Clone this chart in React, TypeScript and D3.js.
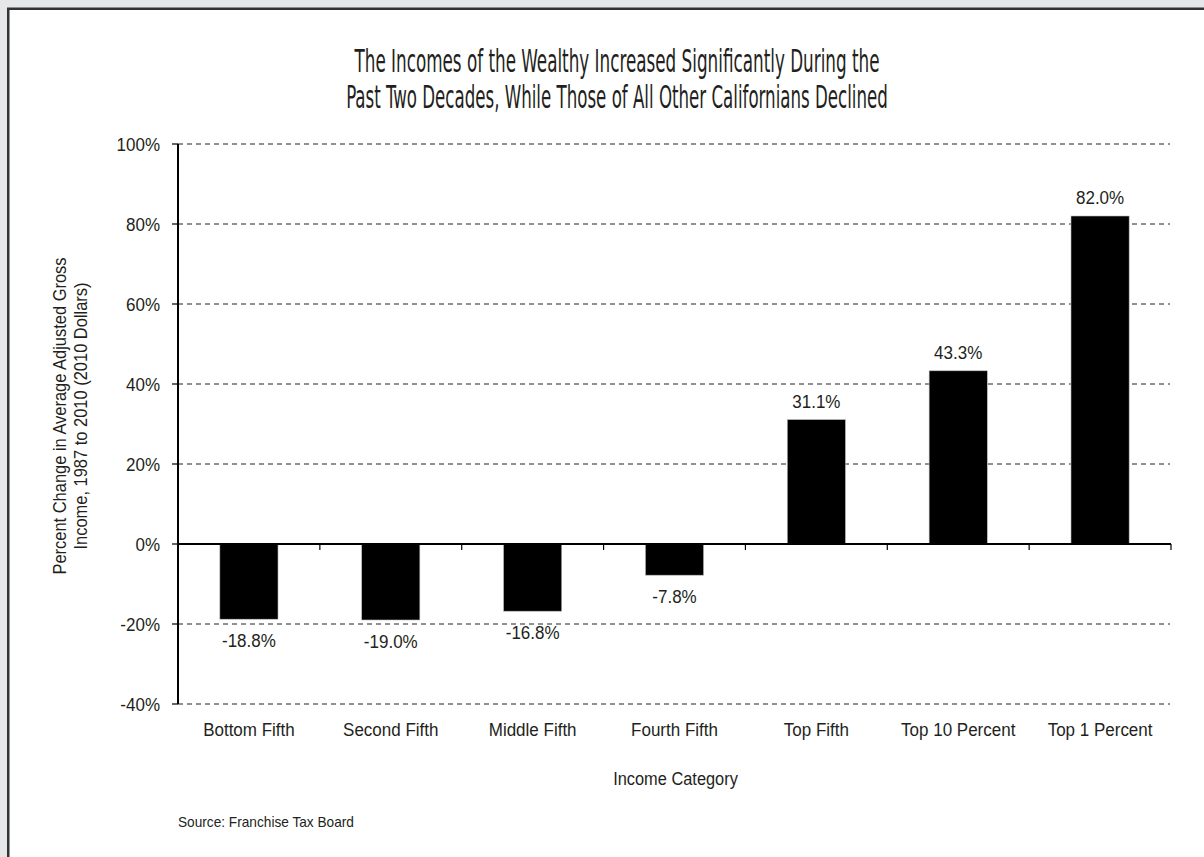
import React, { useEffect, useLayoutEffect, useRef, useState } from "react";
import * as d3 from "d3";

const categories = ["Bottom Fifth", "Second Fifth", "Middle Fifth", "Fourth Fifth", "Top Fifth", "Top 10 Percent", "Top 1 Percent"];
const values = [-18.8, -19.0, -16.8, -7.8, 31.1, 43.3, 82.0];
const yTicks = [-40, -20, 0, 20, 40, 60, 80, 100];
const titleLines = [
  "The Incomes of the Wealthy Increased Significantly During the",
  "Past Two Decades, While Those of All Other Californians Declined",
];
const yLabelLines = ["Percent Change in Average Adjusted Gross", "Income, 1987 to 2010 (2010 Dollars)"];
const xLabel = "Income Category";
const source = "Source: Franchise Tax Board";

const W = 1204;
const H = 857;
const left = 178;
const right = 1171;
const top = 144;
const bottom = 704;
const FONT = "'Liberation Sans', Arial, Helvetica, sans-serif";
const TITLE_FONT = "'DejaVu Sans Condensed', 'Liberation Sans', sans-serif";
const titleWidths = [525, 542];
const SX = 0.895;

function T({ x, y, anchor = "middle", size = 19, sx = SX, rotate = 0, children }: any) {
  return (
    <text
      transform={`translate(${x},${y})${rotate ? ` rotate(${rotate})` : ""} scale(${sx},1)`}
      textAnchor={anchor}
      fontSize={size}
      fill="#231f20"
    >
      {children}
    </text>
  );
}

export default function App() {
  useEffect(() => {
    document.body.style.margin = "0";
  }, []);
  const titleRefs = [useRef<SVGTextElement>(null), useRef<SVGTextElement>(null)];
  const [titleScale, setTitleScale] = useState<number[]>([0.8, 0.8]);
  useLayoutEffect(() => {
    const s = titleRefs.map((r, i) => {
      const el = r.current;
      if (!el) return 0.8;
      const w = el.getComputedTextLength();
      return w > 0 ? titleWidths[i] / w : 0.8;
    });
    setTitleScale(s);
  }, []);

  const x = d3.scaleBand<string>().domain(categories).range([left, right]).paddingInner(0.59).paddingOuter(0.295);
  const xb = d3.scaleBand<string>().domain(categories).range([left, right]);
  const y = d3.scaleLinear().domain([-40, 100]).range([bottom, top]);
  const y0 = y(0);

  return (
    <svg width={W} height={H} style={{ display: "block", position: "absolute", left: 0, top: 0 }} fontFamily={FONT}>
      <rect x={0} y={0} width={W} height={H} fill="#e6e7e8" />
      <rect x={8.25} y={8.75} width={W + 20} height={H + 20} fill="#ffffff" stroke="#333" strokeWidth={2.5} />

      {titleLines.map((t, i) => (
        <text
          key={i}
          ref={titleRefs[i]}
          transform={`translate(617,${72 + i * 36}) scale(${titleScale[i]},1)`}
          textAnchor="middle"
          fontSize={32}
          fontFamily={TITLE_FONT}
          fill="#231f20"
        >
          {t}
        </text>
      ))}

      {/* gridlines */}
      {yTicks.filter((t) => t !== 0).map((t) => (
        <line key={t} x1={left} x2={right - 1} y1={y(t)} y2={y(t)} stroke="#222" strokeWidth={1} strokeDasharray="5,4" />
      ))}

      {/* y ticks and labels */}
      {yTicks.map((t) => (
        <g key={t}>
          <line x1={left - 6} x2={left} y1={y(t)} y2={y(t)} stroke="#000" strokeWidth={1.2} />
          <T x={160} y={y(t) + 6.8} anchor="end">{`${t}%`}</T>
        </g>
      ))}

      {/* bars */}
      {categories.map((c, i) => {
        const v = values[i];
        const yTop = Math.min(y(v), y0);
        const h = Math.abs(y(v) - y0);
        return <rect key={c} x={x(c)} y={yTop} width={x.bandwidth()} height={h} fill="#000" stroke="#bbb" strokeWidth={0.6} />;
      })}

      {/* zero line and x ticks */}
      <line x1={left} x2={right} y1={y0} y2={y0} stroke="#000" strokeWidth={2} />
      {categories.map((c) => {
        const bx = (xb(c) as number) + xb.bandwidth();
        return <line key={c} x1={bx} x2={bx} y1={y0} y2={y0 + 6} stroke="#000" strokeWidth={1.2} />;
      })}

      {/* y axis */}
      <line x1={left} x2={left} y1={top} y2={bottom} stroke="#000" strokeWidth={2} />

      {/* value labels */}
      {categories.map((c, i) => {
        const v = values[i];
        const cx = (x(c) as number) + x.bandwidth() / 2;
        const ly = v >= 0 ? y(v) - 12 : y(v) + 28;
        return (
          <T key={c} x={cx} y={ly}>{`${v.toFixed(1)}%`}</T>
        );
      })}

      {/* x category labels */}
      {categories.map((c) => (
        <T key={c} x={(xb(c) as number) + xb.bandwidth() / 2} y={736}>{c}</T>
      ))}

      <T x={675.5} y={785} size={18.3}>{xLabel}</T>

      {yLabelLines.map((t, i) => (
        <T key={i} x={66 + i * 21} y={416} rotate={-90} size={18.3} sx={0.9}>{t}</T>
      ))}

      <T x={178} y={827} anchor="start" size={15.2} sx={0.9}>{source}</T>
    </svg>
  );
}
